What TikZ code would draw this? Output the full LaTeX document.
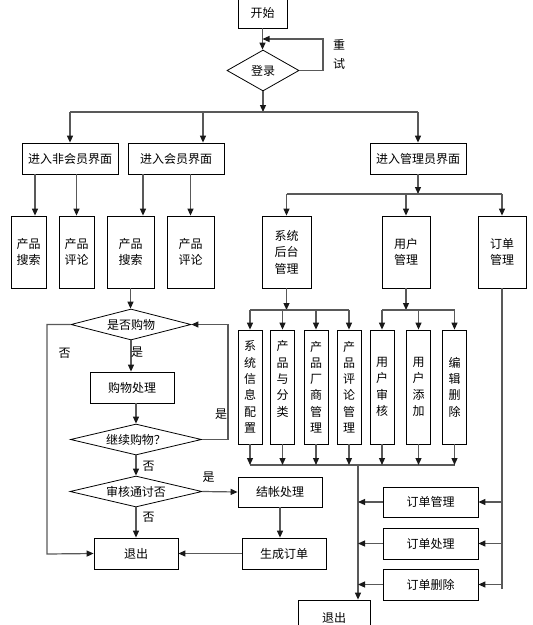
\documentclass[tikz,border=0pt]{standalone}
\usepackage{fontspec}
\setmainfont{Noto Sans CJK SC}
\usetikzlibrary{arrows.meta,shapes.geometric}

\begin{document}
\begin{tikzpicture}[x=1pt, y=-1pt, semithick,
    font=\fontsize{12}{16.5}\selectfont,
    box/.style={draw, line width=0.8pt, inner sep=0pt, align=center},
    vbox/.style={box, minimum width=24pt, minimum height=114pt, font=\fontsize{12}{16.3}\selectfont},
    choice/.style={diamond, draw, line width=0.8pt, inner sep=0pt, shape aspect=4},
    link/.style={draw=black!65, line width=1.2pt},
    arr/.style={link, -{Triangle[length=7pt,width=6pt,color=black!90]}}]

  \useasboundingbox (0,0) rectangle (533,625);
  \clip (0,0) rectangle (533,625);

  % start, login and retry
  \node[box, minimum width=49pt, minimum height=30pt] (start) at (262.5,13) {开始};
  \node[choice, minimum width=72pt, minimum height=41pt] (login) at (263,70.5) {登录};
  \node[font=\fontsize{12}{19}\selectfont, align=center] (retry) at (339,54.5) {重\\试};
  \coordinate (retrycorner) at (323,39);
  \coordinate (hub) at (263,112);
  \coordinate (memdrop) at (203,112);
  \draw[arr] (start.south) -- (start.south |- login.north);
  \draw[arr] (login.east) -| (retrycorner) -- (start.south |- retrycorner);
  \draw[arr] (login.south) -- (hub);

  % three entrances
  \node[box, minimum width=96pt, minimum height=31pt] (nonmem) at (70,158.5) {进入非会员界面};
  \node[box, minimum width=96pt, minimum height=31pt] (member) at (176,158.5) {进入会员界面};
  \node[box, minimum width=96pt, minimum height=31pt] (admin) at (418,158.5) {进入管理员界面};
  \draw[link] (hub -| nonmem.north) -- (hub -| admin.north);
  \draw[arr] (hub -| nonmem.north) -- (nonmem.north);
  \draw[arr] (memdrop) -- (memdrop |- member.north);
  \draw[arr] (hub -| admin.north) -- (admin.north);

  % visitor and member pages
  \node[box, minimum width=35pt, minimum height=72pt] (search1) at (28.5,252) {产品\\搜索};
  \node[box, minimum width=35pt, minimum height=72pt] (review1) at (76.5,252) {产品\\评论};
  \node[box, minimum width=47pt, minimum height=72pt] (search2) at (130.5,252) {产品\\搜索};
  \node[box, minimum width=47pt, minimum height=72pt] (review2) at (190.5,252) {产品\\评论};
  \coordinate (s1drop) at (35,174);
  \coordinate (s2drop) at (143,174);
  \draw[arr] (s1drop) -- (s1drop |- search1.north);
  \draw[arr] (nonmem.south -| review1.north) -- (review1.north);
  \draw[arr] (s2drop) -- (s2drop |- search2.north);
  \draw[arr] (member.south -| review2.north) -- (review2.north);

  % shopping
  \node[choice, minimum width=120pt, minimum height=31pt] (shopq) at (131,324.5) {是否购物};
  \node[box, minimum width=84pt, minimum height=31pt] (shopproc) at (132,387.5) {购物处理};
  \node[choice, minimum width=131pt, minimum height=31pt] (contq) at (136,439.5) {继续购物？};
  \node[choice, minimum width=132pt, minimum height=31pt] (checkq) at (136,491.5) {审核通讨否};
  \node[box, minimum width=84pt, minimum height=30pt] (checkout) at (280,492) {结帐处理};
  \node[box, minimum width=84pt, minimum height=31pt] (exitL) at (136,553.5) {退出};
  \node[box, minimum width=84pt, minimum height=31pt] (genorder) at (284,553.5) {生成订单};
  \coordinate (yesloop) at (228,324.5);
  \coordinate (noloop) at (47,554);
  \draw[arr] (search2.south) -- (search2.south |- shopq.north);
  \draw[arr] (shopq.south) -- (shopq.south |- shopproc.north);
  \draw[arr] (shopproc.south -| contq.north) -- (contq.north);
  \draw[arr] (contq.south) -- (checkq.north);
  \draw[arr] (checkq.south) -- (exitL.north);
  \draw[arr] (checkq.east) -- (checkout.west);
  \draw[arr] (checkout.south) -- (checkout.south |- genorder.north);
  \draw[arr] (genorder.west) -- (exitL.east);
  \draw[arr] (contq.east) -| (yesloop) -- (shopq.east);
  \draw[arr] (shopq.west) -| (noloop) -- (exitL.west);
  \node (yes1) at (137,352) {是};
  \node (no1)  at (64.5,353) {否};
  \node (yes2) at (221,414) {是};
  \node (no2)  at (148.5,466) {否};
  \node (yes3) at (208.5,477) {是};
  \node (no3)  at (148.5,517.5) {否};

  % administrator
  \node[box, minimum width=49pt, minimum height=72pt] (sysmgr) at (286.5,252) {系统\\后台\\管理};
  \node[box, minimum width=48pt, minimum height=72pt] (usermgr) at (406,252) {用户\\管理};
  \node[box, minimum width=48pt, minimum height=72pt] (ordermgr) at (502,252) {订单\\管理};
  \coordinate (adminhub) at (418,194);
  \draw[arr] (admin.south) -- (adminhub);
  \draw[link] (adminhub -| sysmgr.north) -- (adminhub -| ordermgr.north);
  \draw[arr] (adminhub -| sysmgr.north) -- (sysmgr.north);
  \draw[arr] (adminhub -| usermgr.north) -- (usermgr.north);
  \draw[arr] (adminhub -| ordermgr.north) -- (ordermgr.north);

  \node[vbox] (sysinfo)   at (250,387)   {系\\统\\信\\息\\配\\置};
  \node[vbox] (prodcat)   at (282.5,387) {产\\品\\与\\分\\类\\\phantom{类}};
  \node[vbox] (vendor)    at (316,387)   {产\\品\\厂\\商\\管\\理};
  \node[vbox] (prodrev)   at (349,387)   {产\\品\\评\\论\\管\\理};
  \node[vbox] (useraudit) at (382,387)   {用\\户\\审\\核};
  \node[vbox] (useradd)   at (418.5,387) {用\\户\\添\\加};
  \node[vbox] (useredit)  at (454.5,387) {编\\辑\\删\\除};
  \coordinate (syshub) at (286.5,310);
  \coordinate (userhub) at (406,310);
  \draw[arr] (sysmgr.south) -- (syshub);
  \draw[link] (syshub -| sysinfo.north) -- (syshub -| prodrev.north);
  \draw[arr] (syshub -| sysinfo.north) -- (sysinfo.north);
  \draw[arr] (syshub -| prodcat.north) -- (prodcat.north);
  \draw[arr] (syshub -| vendor.north) -- (vendor.north);
  \draw[arr] (syshub -| prodrev.north) -- (prodrev.north);
  \draw[arr] (usermgr.south) -- (userhub);
  \draw[link] (userhub -| useraudit.north) -- (userhub -| useredit.north);
  \draw[arr] (userhub -| useraudit.north) -- (useraudit.north);
  \draw[arr] (userhub -| useradd.north) -- (useradd.north);
  \draw[arr] (userhub -| useredit.north) -- (useredit.north);

  % back to exit
  \node[box, minimum width=72pt, minimum height=36pt] (exitR) at (334,618) {退出};
  \coordinate (trunk) at (358,465);
  \draw[link] (trunk -| sysinfo.south) -- (trunk -| useredit.south);
  \draw[arr] (sysinfo.south) -- (trunk -| sysinfo.south);
  \draw[arr] (prodcat.south) -- (trunk -| prodcat.south);
  \draw[arr] (vendor.south) -- (trunk -| vendor.south);
  \draw[arr] (prodrev.south) -- (trunk -| prodrev.south);
  \draw[arr] (useraudit.south) -- (trunk -| useraudit.south);
  \draw[arr] (useradd.south) -- (trunk -| useradd.south);
  \draw[arr] (useredit.south) -- (trunk -| useredit.south);
  \draw[arr] (trunk) -- (trunk |- exitR.north);

  % orders
  \node[box, minimum width=95pt, minimum height=30pt] (ordm) at (430.5,502) {订单管理};
  \node[box, minimum width=95pt, minimum height=31pt] (ordp) at (430.5,543.5) {订单处理};
  \node[box, minimum width=95pt, minimum height=31pt] (ordd) at (430.5,584.5) {订单删除};
  \coordinate (spineend) at (502,589);
  \draw[link] (ordermgr.south) -- (spineend);
  \draw[arr] (ordm.east -| spineend) -- (ordm.east);
  \draw[arr] (ordp.east -| spineend) -- (ordp.east);
  \draw[arr] (ordd.east -| spineend) -- (ordd.east);
  \draw[arr] (ordm.west) -- (ordm.west -| trunk);
  \draw[arr] (ordp.west) -- (ordp.west -| trunk);
  \draw[arr] (ordd.west) -- (ordd.west -| trunk);
\end{tikzpicture}
\end{document}
